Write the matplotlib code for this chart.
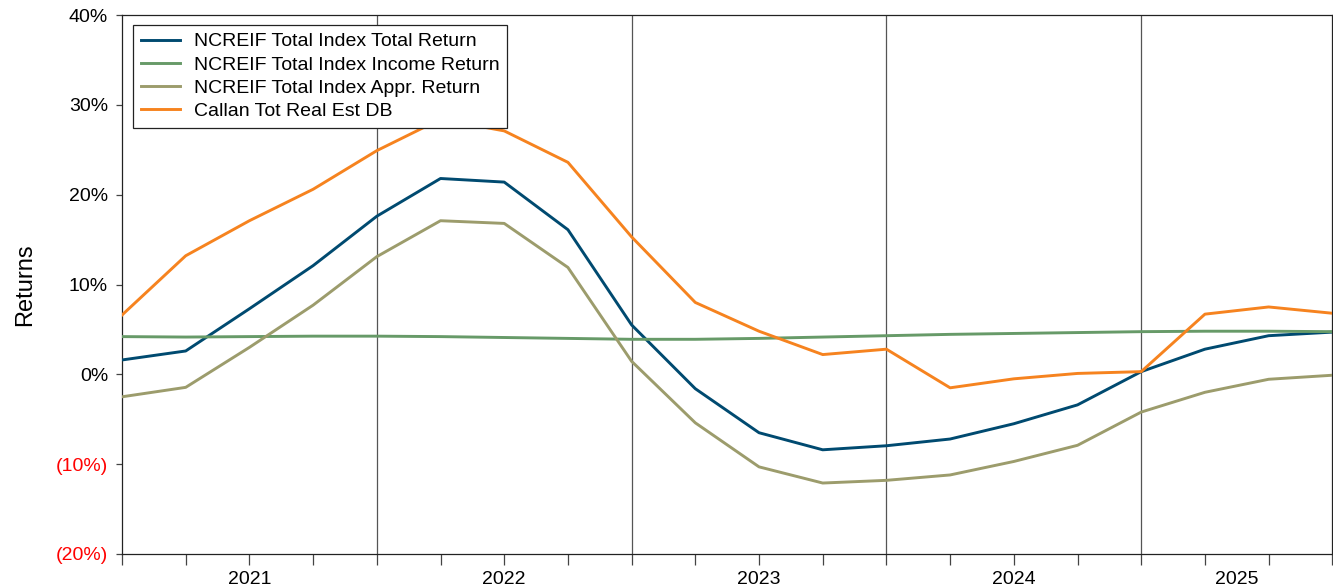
import matplotlib.pyplot as plt
import matplotlib.ticker as mticker

plt.rcParams['font.family'] = ['Liberation Sans', 'DejaVu Sans']

# quarterly points, index 0 = start of 2021
quarters = list(range(20))

total_return = [1.6, 2.6, 7.3, 12.1, 17.6, 21.8, 21.4, 16.1, 5.5, -1.6,
                -6.5, -8.4, -7.95, -7.2, -5.5, -3.4, 0.3, 2.8, 4.3, 4.7]
income_return = [4.2, 4.15, 4.2, 4.25, 4.25, 4.2, 4.1, 4.0, 3.9, 3.9,
                 4.0, 4.15, 4.3, 4.45, 4.55, 4.65, 4.75, 4.8, 4.8, 4.75]
appr_return = [-2.5, -1.45, 3.0, 7.7, 13.1, 17.1, 16.8, 11.9, 1.45, -5.4,
               -10.3, -12.1, -11.8, -11.2, -9.7, -7.9, -4.2, -2.0, -0.55, -0.1]
callan_re = [6.6, 13.2, 17.1, 20.6, 24.9, 28.4, 27.1, 23.6, 15.3, 8.0,
             4.8, 2.2, 2.8, -1.5, -0.5, 0.1, 0.3, 6.7, 7.5, 6.8]

series_names = ["NCREIF Total Index Total Return",
                "NCREIF Total Index Income Return",
                "NCREIF Total Index Appr. Return",
                "Callan Tot Real Est DB"]
series_colors = ["#004a70", "#679a68", "#9c9c6c", "#f6831f"]

year_labels = ["2021", "2022", "2023", "2024", "2025"]
year_pos = [2, 6, 10, 14, 17.5]
year_bounds = [4, 8, 12, 16]

fig = plt.figure(figsize=(13.33, 5.87), dpi=100)
ax = fig.add_axes([122/1333, 33/587, 1 - 122/1333 - 0.0005, (554-15)/587])

for vals, name, col in zip([total_return, income_return, appr_return, callan_re],
                           series_names, series_colors):
    ax.plot(quarters, vals, color=col, lw=2.1, label=name, zorder=3)

for b in year_bounds:
    ax.axvline(b, color="#555555", lw=0.9, zorder=1)

ax.set_xlim(0, 19)
ax.set_ylim(-20, 40)

# quarter ticks
ax.set_xticks(quarters)
ax.set_xticklabels([])
ax.tick_params(axis='x', which='major', length=8, width=0.9, color="#444444", direction='out')
ax.xaxis.remove_overlapping_locs = False
ax.set_xticks(year_pos, minor=True)
ax.set_xticklabels(year_labels, minor=True)
ax.tick_params(axis='x', which='minor', length=0, pad=12, labelsize=14)

ax.yaxis.set_major_locator(mticker.MultipleLocator(10))
ax.yaxis.set_major_formatter(mticker.FuncFormatter(
    lambda v, p: f"({abs(v):.0f}%)" if v < 0 else f"{v:.0f}%"))
ax.tick_params(axis='y', length=4, width=0.9, color="#444444", labelsize=14, pad=6)
for lbl, v in zip(ax.get_yticklabels(), ax.get_yticks()):
    if v < 0:
        lbl.set_color("red")

for s in ax.spines.values():
    s.set_linewidth(0.9)
    s.set_color("#222222")

ax.set_ylabel("Returns", fontsize=17, labelpad=14)

leg = ax.legend(loc='upper left', bbox_to_anchor=(0.009, 0.982), fontsize=14,
                frameon=True, fancybox=False, framealpha=1, borderaxespad=0,
                handlelength=2.0, labelspacing=0.28, borderpad=0.42, handletextpad=0.7)
leg.get_frame().set_edgecolor("#222222")
leg.get_frame().set_linewidth(0.9)

fig.savefig("out.png", dpi=100)
